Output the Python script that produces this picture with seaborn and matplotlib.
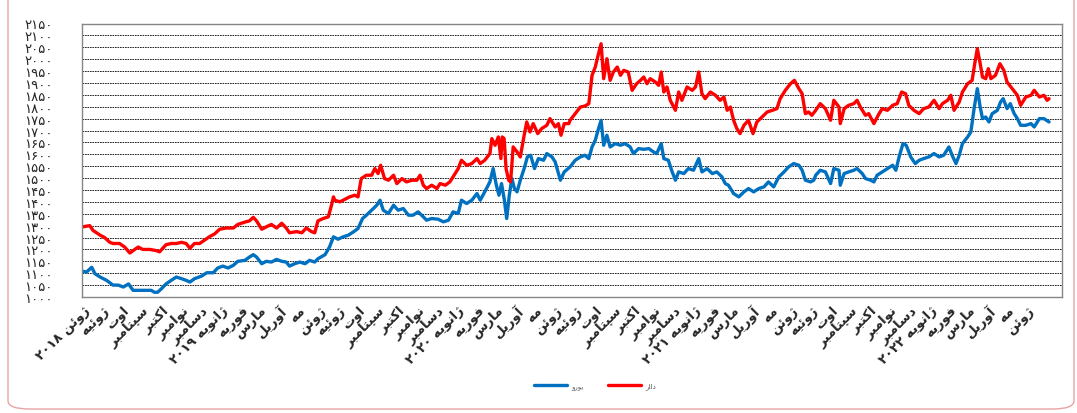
import matplotlib
matplotlib.use("Agg")
import matplotlib.pyplot as plt
from matplotlib.patches import FancyBboxPatch
from matplotlib.ticker import FixedLocator, FuncFormatter
import seaborn as sns
import pandas as pd

# ---- data ----
usd_dates = [
    "2018-05-24", "2018-06-04", "2018-06-09", "2018-06-20", "2018-06-27", "2018-07-05", "2018-07-10",
    "2018-07-20", "2018-07-28", "2018-08-05", "2018-08-10", "2018-08-18", "2018-08-25", "2018-09-05",
    "2018-09-15", "2018-09-20", "2018-09-25", "2018-09-30", "2018-10-08", "2018-10-16", "2018-10-24",
    "2018-10-31", "2018-11-06", "2018-11-13", "2018-11-21", "2018-11-29", "2018-12-07", "2018-12-14",
    "2018-12-22", "2019-01-01", "2019-01-12", "2019-01-19", "2019-01-30", "2019-02-06", "2019-02-12",
    "2019-02-17", "2019-02-25", "2019-03-04", "2019-03-12", "2019-03-20", "2019-03-28", "2019-04-04",
    "2019-04-09", "2019-04-20", "2019-04-28", "2019-05-05", "2019-05-13", "2019-05-18", "2019-05-23",
    "2019-05-31", "2019-06-08", "2019-06-13", "2019-06-16", "2019-06-18", "2019-06-26", "2019-07-04",
    "2019-07-11", "2019-07-19", "2019-07-24", "2019-07-29", "2019-08-06", "2019-08-14", "2019-08-19",
    "2019-08-24", "2019-08-28", "2019-09-03", "2019-09-09", "2019-09-17", "2019-09-22", "2019-09-30",
    "2019-10-07", "2019-10-15", "2019-10-23", "2019-10-28", "2019-11-02", "2019-11-07", "2019-11-15",
    "2019-11-23", "2019-11-28", "2019-12-06", "2019-12-13", "2019-12-18", "2019-12-26", "2019-12-31",
    "2020-01-08", "2020-01-16", "2020-01-24", "2020-01-29", "2020-02-05", "2020-02-13", "2020-02-16",
    "2020-02-21", "2020-02-26", "2020-03-01", "2020-03-03", "2020-03-06", "2020-03-09", "2020-03-13",
    "2020-03-16", "2020-03-20", "2020-03-26", "2020-03-31", "2020-04-06", "2020-04-10", "2020-04-15",
    "2020-04-20", "2020-04-27", "2020-05-03", "2020-05-11", "2020-05-16", "2020-05-24", "2020-05-29",
    "2020-06-02", "2020-06-07", "2020-06-14", "2020-06-16", "2020-06-24", "2020-07-02", "2020-07-09",
    "2020-07-15", "2020-07-20", "2020-07-25", "2020-07-30", "2020-08-03", "2020-08-07", "2020-08-12",
    "2020-08-17", "2020-08-22", "2020-08-28", "2020-09-02", "2020-09-07", "2020-09-14", "2020-09-20",
    "2020-09-27", "2020-10-03", "2020-10-08", "2020-10-13", "2020-10-18", "2020-10-26", "2020-10-31",
    "2020-11-04", "2020-11-08", "2020-11-13", "2020-11-18", "2020-11-26", "2020-12-01", "2020-12-06",
    "2020-12-14", "2020-12-22", "2020-12-27", "2021-01-01", "2021-01-06", "2021-01-11", "2021-01-19",
    "2021-01-27", "2021-02-03", "2021-02-09", "2021-02-14", "2021-02-19", "2021-02-24", "2021-03-01",
    "2021-03-06", "2021-03-12", "2021-03-19", "2021-03-26", "2021-04-01", "2021-04-09", "2021-04-17",
    "2021-04-25", "2021-05-02", "2021-05-07", "2021-05-15", "2021-05-23", "2021-05-29", "2021-06-05",
    "2021-06-10", "2021-06-15", "2021-06-20", "2021-06-25", "2021-07-01", "2021-07-08", "2021-07-16",
    "2021-07-24", "2021-07-29", "2021-08-06", "2021-08-08", "2021-08-14", "2021-08-21", "2021-08-29",
    "2021-09-03", "2021-09-08", "2021-09-16", "2021-09-21", "2021-09-29", "2021-10-07", "2021-10-12",
    "2021-10-20", "2021-10-28", "2021-11-04", "2021-11-11", "2021-11-17", "2021-11-22", "2021-11-30",
    "2021-12-08", "2021-12-15", "2021-12-23", "2021-12-31", "2022-01-08", "2022-01-13", "2022-01-21",
    "2022-01-26", "2022-01-31", "2022-02-08", "2022-02-13", "2022-02-21", "2022-02-28", "2022-03-04",
    "2022-03-08", "2022-03-12", "2022-03-16", "2022-03-21", "2022-03-25", "2022-03-29", "2022-04-05",
    "2022-04-12", "2022-04-18", "2022-04-23", "2022-05-01", "2022-05-09", "2022-05-14", "2022-05-22",
    "2022-05-30", "2022-06-04", "2022-06-12", "2022-06-19", "2022-06-24", "2022-06-27",
]
usd_values = [
    1295, 1300, 1280, 1260, 1250, 1230, 1225, 1225, 1210, 1185, 1195, 1210, 1200, 1200,
    1195, 1190, 1205, 1220, 1225, 1225, 1230, 1225, 1205, 1225, 1225, 1240, 1255, 1265,
    1285, 1290, 1290, 1305, 1315, 1320, 1335, 1320, 1285, 1295, 1305, 1290, 1310, 1290,
    1270, 1275, 1270, 1290, 1275, 1270, 1320, 1330, 1337, 1386, 1421, 1407, 1400, 1411,
    1421, 1428, 1421, 1498, 1512, 1512, 1540, 1519, 1554, 1498, 1491, 1512, 1477, 1498,
    1484, 1491, 1491, 1512, 1470, 1456, 1470, 1456, 1477, 1470, 1484, 1505, 1540, 1575,
    1554, 1561, 1582, 1561, 1575, 1603, 1666, 1638, 1673, 1582, 1673, 1666, 1540, 1491,
    1484, 1631, 1610, 1589, 1680, 1736, 1694, 1729, 1687, 1708, 1722, 1750, 1715, 1729,
    1680, 1729, 1729, 1743, 1771, 1799, 1803, 1813, 1932, 1967, 2023, 2065, 1918, 2002,
    1911, 1946, 1967, 1932, 1953, 1946, 1869, 1897, 1911, 1925, 1897, 1918, 1904, 1890,
    1946, 1862, 1883, 1827, 1785, 1862, 1827, 1883, 1869, 1883, 1946, 1855, 1834, 1862,
    1848, 1827, 1841, 1785, 1799, 1743, 1708, 1687, 1722, 1743, 1687, 1736, 1757, 1778,
    1785, 1792, 1834, 1869, 1897, 1911, 1876, 1855, 1771, 1778, 1764, 1785, 1813, 1792,
    1743, 1827, 1799, 1729, 1792, 1806, 1813, 1827, 1799, 1764, 1771, 1729, 1771, 1792,
    1785, 1806, 1813, 1862, 1855, 1806, 1785, 1771, 1792, 1799, 1827, 1792, 1813, 1827,
    1848, 1785, 1820, 1862, 1897, 1911, 1981, 2044, 1988, 1925, 1918, 1960, 1918, 1932,
    1981, 1953, 1904, 1876, 1848, 1806, 1841, 1848, 1869, 1841, 1848, 1827, 1834,
]

eur_dates = [
    "2018-05-24", "2018-05-30", "2018-06-07", "2018-06-12", "2018-06-20", "2018-06-30", "2018-07-10",
    "2018-07-18", "2018-07-26", "2018-08-03", "2018-08-10", "2018-08-21", "2018-08-31", "2018-09-07",
    "2018-09-12", "2018-09-17", "2018-09-23", "2018-09-30", "2018-10-08", "2018-10-16", "2018-10-24",
    "2018-10-31", "2018-11-06", "2018-11-13", "2018-11-24", "2018-12-02", "2018-12-12", "2018-12-19",
    "2018-12-27", "2019-01-04", "2019-01-12", "2019-01-19", "2019-01-30", "2019-02-06", "2019-02-12",
    "2019-02-17", "2019-02-25", "2019-03-04", "2019-03-12", "2019-03-20", "2019-03-28", "2019-04-04",
    "2019-04-09", "2019-04-17", "2019-04-25", "2019-05-03", "2019-05-10", "2019-05-18", "2019-05-23",
    "2019-06-03", "2019-06-10", "2019-06-16", "2019-06-23", "2019-07-01", "2019-07-09", "2019-07-17",
    "2019-07-24", "2019-07-31", "2019-08-06", "2019-08-14", "2019-08-22", "2019-08-27", "2019-09-01",
    "2019-09-09", "2019-09-17", "2019-09-24", "2019-10-02", "2019-10-10", "2019-10-17", "2019-10-25",
    "2019-11-02", "2019-11-07", "2019-11-15", "2019-11-25", "2019-12-03", "2019-12-11", "2019-12-18",
    "2019-12-26", "2019-12-31", "2020-01-08", "2020-01-16", "2020-01-24", "2020-01-29", "2020-02-05",
    "2020-02-13", "2020-02-18", "2020-02-23", "2020-02-27", "2020-03-02", "2020-03-06", "2020-03-10",
    "2020-03-14", "2020-03-18", "2020-03-22", "2020-03-26", "2020-03-31", "2020-04-06", "2020-04-11",
    "2020-04-16", "2020-04-22", "2020-04-28", "2020-05-06", "2020-05-11", "2020-05-19", "2020-05-24",
    "2020-06-01", "2020-06-07", "2020-06-16", "2020-06-24", "2020-07-02", "2020-07-09", "2020-07-15",
    "2020-07-20", "2020-07-25", "2020-07-30", "2020-08-03", "2020-08-07", "2020-08-12", "2020-08-17",
    "2020-08-25", "2020-09-02", "2020-09-09", "2020-09-17", "2020-09-22", "2020-09-30", "2020-10-08",
    "2020-10-16", "2020-10-23", "2020-10-28", "2020-11-04", "2020-11-08", "2020-11-15", "2020-11-21",
    "2020-11-26", "2020-12-01", "2020-12-09", "2020-12-16", "2020-12-24", "2021-01-01", "2021-01-06",
    "2021-01-14", "2021-01-22", "2021-01-29", "2021-02-06", "2021-02-11", "2021-02-16", "2021-02-24",
    "2021-03-04", "2021-03-12", "2021-03-19", "2021-03-27", "2021-04-04", "2021-04-12", "2021-04-19",
    "2021-04-27", "2021-05-05", "2021-05-13", "2021-05-20", "2021-05-28", "2021-06-05", "2021-06-10",
    "2021-06-15", "2021-06-23", "2021-06-28", "2021-07-01", "2021-07-08", "2021-07-16", "2021-07-24",
    "2021-07-29", "2021-08-06", "2021-08-08", "2021-08-14", "2021-08-21", "2021-08-29", "2021-09-03",
    "2021-09-11", "2021-09-16", "2021-09-24", "2021-09-29", "2021-10-04", "2021-10-12", "2021-10-20",
    "2021-10-28", "2021-11-02", "2021-11-07", "2021-11-13", "2021-11-18", "2021-11-25", "2021-12-02",
    "2021-12-08", "2021-12-15", "2021-12-23", "2021-12-31", "2022-01-08", "2022-01-15", "2022-01-23",
    "2022-01-28", "2022-02-03", "2022-02-08", "2022-02-13", "2022-02-21", "2022-02-26", "2022-03-03",
    "2022-03-08", "2022-03-12", "2022-03-16", "2022-03-21", "2022-03-26", "2022-03-31", "2022-04-08",
    "2022-04-13", "2022-04-17", "2022-04-23", "2022-04-28", "2022-05-04", "2022-05-09", "2022-05-14",
    "2022-05-22", "2022-05-30", "2022-06-04", "2022-06-12", "2022-06-19", "2022-06-27",
]
eur_values = [
    1108, 1105, 1125, 1098, 1084, 1070, 1050, 1050, 1042, 1055, 1028, 1028, 1028, 1028,
    1020, 1020, 1035, 1055, 1070, 1084, 1077, 1070, 1063, 1077, 1088, 1102, 1102, 1122,
    1130, 1122, 1133, 1150, 1154, 1168, 1178, 1168, 1140, 1150, 1147, 1158, 1150, 1147,
    1130, 1140, 1147, 1140, 1154, 1147, 1161, 1178, 1211, 1253, 1243, 1253, 1260, 1274,
    1288, 1330, 1344, 1365, 1386, 1407, 1365, 1351, 1386, 1365, 1372, 1344, 1344, 1358,
    1337, 1323, 1330, 1327, 1316, 1323, 1358, 1351, 1407, 1393, 1407, 1435, 1407, 1442,
    1484, 1540, 1470, 1428, 1477, 1414, 1330, 1428, 1498, 1456, 1442, 1491, 1540, 1589,
    1596, 1540, 1582, 1575, 1603, 1589, 1568, 1491, 1526, 1547, 1575, 1589, 1596, 1582,
    1631, 1659, 1708, 1743, 1638, 1680, 1631, 1645, 1638, 1645, 1631, 1603, 1624, 1621,
    1624, 1610, 1603, 1645, 1582, 1575, 1526, 1491, 1526, 1519, 1540, 1533, 1582, 1526,
    1540, 1519, 1526, 1505, 1477, 1470, 1435, 1421, 1442, 1456, 1442, 1456, 1463, 1484,
    1463, 1505, 1526, 1547, 1561, 1554, 1533, 1491, 1484, 1491, 1512, 1533, 1526, 1477,
    1540, 1533, 1470, 1519, 1526, 1533, 1540, 1519, 1498, 1491, 1484, 1512, 1526, 1540,
    1554, 1533, 1589, 1645, 1638, 1589, 1561, 1575, 1582, 1589, 1603, 1589, 1596, 1631,
    1596, 1561, 1596, 1645, 1673, 1694, 1792, 1876, 1806, 1750, 1757, 1736, 1771, 1785,
    1820, 1834, 1792, 1813, 1771, 1750, 1722, 1722, 1729, 1715, 1750, 1750, 1736,
]

month_labels = [
    "ژوئن ۲۰۱۸", "ژوئیه", "اوت", "سپتامبر", "اکتبر", "نوامبر", "دسامبر",
    "ژانویه ۲۰۱۹", "فوریه", "مارس", "آوریل", "مه", "ژوئن", "ژوئیه", "اوت", "سپتامبر",
    "اکتبر", "نوامبر", "دسامبر", "ژانویه ۲۰۲۰", "فوریه", "مارس", "آوریل", "مه", "ژوئن",
    "ژوئیه", "اوت", "سپتامبر", "اکتبر", "نوامبر", "دسامبر", "ژانویه ۲۰۲۱", "فوریه",
    "مارس", "آوریل", "مه", "ژوئن", "ژوئیه", "اوت", "سپتامبر", "اکتبر", "نوامبر", "دسامبر",
    "ژانویه ۲۰۲۲", "فوریه", "مارس", "آوریل", "مه", "ژوئن",
]
eur_name = "یورو"
usd_name = "دلار"

# ---- minimal Persian shaping (matplotlib has no bidi/shaping) ----
FORMS = {  # isolated, final, initial, medial
    "ا": ("\uFE8D", "\uFE8E", None, None),
    "آ": ("\uFE81", "\uFE82", None, None),
    "ب": ("\uFE8F", "\uFE90", "\uFE91", "\uFE92"),
    "پ": ("\uFB56", "\uFB57", "\uFB58", "\uFB59"),
    "ت": ("\uFE95", "\uFE96", "\uFE97", "\uFE98"),
    "د": ("\uFEA9", "\uFEAA", None, None),
    "ر": ("\uFEAD", "\uFEAE", None, None),
    "ژ": ("\uFB8A", "\uFB8B", None, None),
    "س": ("\uFEB1", "\uFEB2", "\uFEB3", "\uFEB4"),
    "ف": ("\uFED1", "\uFED2", "\uFED3", "\uFED4"),
    "ک": ("\uFB8E", "\uFB8F", "\uFB90", "\uFB91"),
    "ل": ("\uFEDD", "\uFEDE", "\uFEDF", "\uFEE0"),
    "م": ("\uFEE1", "\uFEE2", "\uFEE3", "\uFEE4"),
    "ن": ("\uFEE5", "\uFEE6", "\uFEE7", "\uFEE8"),
    "ه": ("\uFEE9", "\uFEEA", "\uFEEB", "\uFEEC"),
    "و": ("\uFEED", "\uFEEE", None, None),
    "ی": ("\uFBFC", "\uFBFD", "\uFBFE", "\uFBFF"),
    "ئ": ("\uFE89", "\uFE8A", "\uFE8B", "\uFE8C"),
}


def shape_word(w):
    out = []
    for i, ch in enumerate(w):
        f = FORMS[ch]
        prev = w[i - 1] if i > 0 else None
        nxt = w[i + 1] if i + 1 < len(w) else None
        jp = prev in FORMS and FORMS[prev][2] is not None
        jn = nxt in FORMS and f[2] is not None
        if jp and jn:
            out.append(f[3])
        elif jp:
            out.append(f[1])
        elif jn:
            out.append(f[2])
        else:
            out.append(f[0])
    return "".join(reversed(out))


def fa(text):
    parts = [shape_word(t) if t and t[0] in FORMS else t for t in text.split(" ")]
    return " ".join(reversed(parts))


FA_DIGITS = str.maketrans("0123456789", "۰۱۲۳۴۵۶۷۸۹")

# ---- plot ----
sns.set_style("white")
plt.rcParams["font.family"] = ["DejaVu Sans"]

usd = pd.DataFrame({"date": pd.to_datetime(usd_dates), "value": usd_values})
eur = pd.DataFrame({"date": pd.to_datetime(eur_dates), "value": eur_values})

fig = plt.figure(figsize=(10.77, 4.14), dpi=100)
ax = fig.add_axes([82 / 1077, 1 - 298 / 414, (1062 - 82) / 1077, (298 - 24.5) / 414])

sns.lineplot(data=eur, x="date", y="value", ax=ax, color="#0070C0", linewidth=2.4, label=fa(eur_name))
sns.lineplot(data=usd, x="date", y="value", ax=ax, color="#FF0000", linewidth=2.4, label=fa(usd_name))

ax.set_ylim(1000, 2150)
ax.set_xlim(pd.Timestamp("2018-05-23"), pd.Timestamp("2022-07-17"))
ax.yaxis.set_major_locator(FixedLocator(list(range(1000, 2151, 50))))
ax.yaxis.set_major_formatter(FuncFormatter(lambda v, p: str(int(v)).translate(FA_DIGITS)))
ax.yaxis.grid(True, color="black", linestyle=(0, (2, 1)), linewidth=0.6)
ax.xaxis.grid(False)

ticks = pd.date_range("2018-06-01", periods=len(month_labels), freq="MS")
ax.set_xticks(ticks)
ax.set_xticklabels([fa(s.translate(FA_DIGITS)) for s in month_labels], rotation=45,
                   ha="right", va="center", rotation_mode="anchor", fontsize=9.5, fontweight="bold")
ax.tick_params(axis="x", length=0, pad=8)
ax.tick_params(axis="y", length=0, pad=21, labelsize=9.5)
ax.set_xlabel("")
ax.set_ylabel("")
for s in ax.spines.values():
    s.set_color("#868686")
    s.set_linewidth(1)

leg = ax.legend(loc="center", bbox_to_anchor=(595 / 1077, 27 / 414), bbox_transform=fig.transFigure,
                ncol=2, frameon=False, fontsize=5, handlelength=4.8, columnspacing=3.5, handletextpad=0.6)
for t in leg.get_texts():
    t.set_color("#595959")

frame = FancyBboxPatch((8 / 1077, 4 / 414), 1066 / 1077, 1.2, transform=fig.transFigure,
                       boxstyle="round,pad=0,rounding_size=0.02", facecolor="none",
                       edgecolor="#e9a3a3", linewidth=1, clip_on=False)
fig.patches.append(frame)

fig.savefig("out.png", dpi=100)
